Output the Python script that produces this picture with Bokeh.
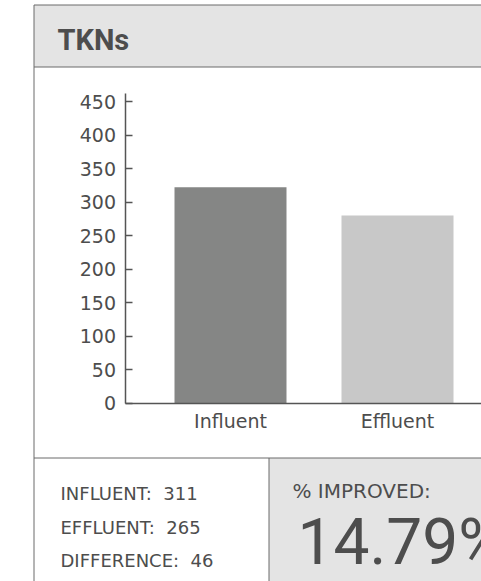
from bokeh.plotting import figure
from bokeh.models import Range1d, FixedTicker
from bokeh.core.properties import value
from bokeh.embed import file_html
from bokeh.resources import INLINE

# ---- data ----
categories = ["Influent", "Effluent"]
bar_values = [322, 280]
bar_colors = ["#858685", "#c8c8c8"]
y_ticks = [0, 50, 100, 150, 200, 250, 300, 350, 400, 450]
title_text = "TKNs"
summary_labels = ["INFLUENT:", "EFFLUENT:", "DIFFERENCE:"]
summary_values = [311, 265, 46]
improved_label = "% IMPROVED:"
improved_value = "14.79%"

# ---- layout (screen pixels; the page has no body margin) ----
X0, Y0 = 0, 0
W, H = 481, 581
CAT_PX = 167.0           # pixels per category
CAT0_PX = 230.0          # screen x of first category centre
ZERO_PX = 402.7          # screen y of value 0
PX_PER_UNIT = 301.7 / 450
AXIS_X = 124.5
AXIS_TOP = 93.3

TEXT = "#4d4d4d"
LINE = "#6a6a6a"
PANEL = "#e4e4e4"
SMALL_FONT = "DejaVu Sans"
BIG_FONT = "Roboto"


def dx(sx):
    return 0.5 + (sx - CAT0_PX) / CAT_PX


def dy(sy):
    return (ZERO_PX - sy) / PX_PER_UNIT


p = figure(width=W, height=H, output_backend="svg", toolbar_location=None, tools="",
           x_range=Range1d(dx(X0), dx(X0 + W)), y_range=Range1d(dy(Y0 + H), dy(Y0)),
           min_border=0)
p.outline_line_color = None
p.xgrid.visible = False
p.ygrid.visible = False

# panels / card
p.quad(left=[dx(33.5)], right=[dx(490)], top=[dy(4.5)], bottom=[dy(66.5)],
       fill_color=PANEL, line_color=None)
p.quad(left=[dx(268.5)], right=[dx(490)], top=[dy(457.5)], bottom=[dy(600)],
       fill_color=PANEL, line_color=None)
p.segment(x0=[dx(33.5), dx(33.5), dx(33.5), dx(33.5), dx(268.5)],
          y0=[dy(4.5), dy(4.5), dy(66.5), dy(457.5), dy(457.5)],
          x1=[dx(490), dx(33.5), dx(490), dx(490), dx(268.5)],
          y1=[dy(4.5), dy(600), dy(66.5), dy(457.5), dy(600)],
          line_color=LINE, line_width=1)

xs = [i + 0.5 for i in range(len(categories))]
p.vbar(x=xs, top=bar_values, width=112 / CAT_PX, color=bar_colors, line_color=None)

# x axis
p.xaxis.fixed_location = 0
p.xaxis.bounds = (dx(AXIS_X), dx(X0 + W + 5))
p.xaxis.ticker = FixedTicker(ticks=xs)
ov = {}
for x, c in zip(xs, categories):
    ov[x] = c
    ov[str(x)] = c
p.xaxis.major_label_overrides = ov
p.xaxis.major_tick_in = 0
p.xaxis.major_tick_out = 0
p.xaxis.minor_tick_line_color = None
p.xaxis.axis_line_color = "#555555"
p.xaxis.axis_line_width = 1.5
p.xaxis.major_label_text_font = SMALL_FONT
p.xaxis.major_label_text_font_size = "19px"
p.xaxis.major_label_text_color = TEXT
p.xaxis.major_label_standoff = 7

# y axis
p.yaxis.fixed_location = dx(AXIS_X)
p.yaxis.bounds = (0, dy(AXIS_TOP))
p.yaxis.ticker = FixedTicker(ticks=y_ticks)
p.yaxis.major_tick_in = 7
p.yaxis.major_tick_out = 0
p.yaxis.minor_tick_line_color = None
p.yaxis.axis_line_color = "#555555"
p.yaxis.axis_line_width = 1.5
p.yaxis.major_tick_line_color = "#555555"
p.yaxis.major_tick_line_width = 1.5
p.yaxis.major_label_text_font = SMALL_FONT
p.yaxis.major_label_text_font_size = "19px"
p.yaxis.major_label_text_color = TEXT
p.yaxis.major_label_standoff = 9


def txt(text, sx, sy, size, font=SMALL_FONT, style="normal"):
    # sy is the wanted baseline; correct for how the text glyph anchors
    p.text(x=[dx(sx)], y=[dy(sy - 0.33 * size)], text=[text], text_font=value(font),
           text_font_size=f"{size}px", text_font_style=style, text_color=TEXT,
           text_baseline="alphabetic", text_align="left")


txt(title_text, 57, 49, 29, BIG_FONT, "bold")
for i, (l, v) in enumerate(zip(summary_labels, summary_values)):
    txt(f"{l}\u00a0 {v}", 60, 499 + 33.5 * i, 18)
txt(improved_label, 292, 497, 20)
txt(improved_value, 297, 563, 64, BIG_FONT)

open("out.html", "w").write(file_html(p, INLINE))
